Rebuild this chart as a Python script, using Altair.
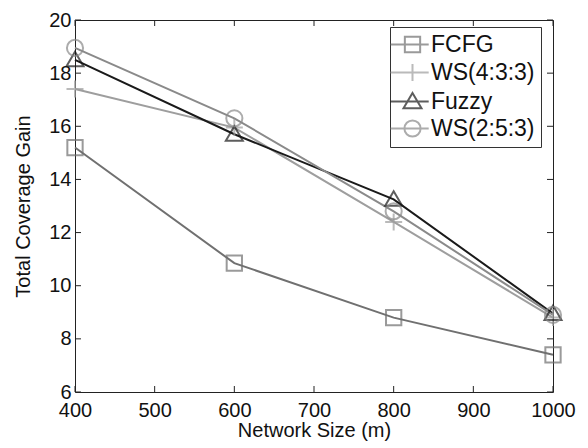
import altair as alt
import pandas as pd

# ---- data ----
sizes = [400, 600, 800, 1000]
series_names = ["FCFG", "WS(4:3:3)", "Fuzzy", "WS(2:5:3)"]
fcfg = [15.2, 10.85, 8.8, 7.4]
ws433 = [17.4, 15.95, 12.4, 8.8]
fuzzy = [18.5, 15.7, 13.25, 8.95]
ws253 = [18.95, 16.3, 12.8, 8.9]
x_ticks = [400, 500, 600, 700, 800, 900, 1000]
y_ticks = [6, 8, 10, 12, 14, 16, 18, 20]

colors = ["#707070", "#9e9e9e", "#1a1a1a", "#8a8a8a"]
CIRCLE = ("M0.9,0C0.9,0.497,0.497,0.9,0,0.9C-0.497,0.9,-0.9,0.497,-0.9,0"
          "C-0.9,-0.497,-0.497,-0.9,0,-0.9C0.497,-0.9,0.9,-0.497,0.9,0Z")
marker_shapes = [
    "M-0.9,-0.9H0.9V0.9H-0.9Z",
    "M-1,0H1M0,-1V1",
    "M0,-0.95L1,0.75H-1Z",
    "M0.95,0A0.95,0.95,0,1,1,-0.95,0A0.95,0.95,0,1,1,0.95,0",
]
# legend symbols: short line through the marker (unit = 9 px)
LINE = "M-2.45,0H1.8"
legend_shapes = [
    LINE + "M-0.85,-0.85H0.85V0.85H-0.85Z",
    LINE + "M0,-0.95V0.95",
    LINE + "M0,-0.95L1,0.75H-1Z",
    LINE + CIRCLE,
]

rows = []
for name, vals in zip(series_names, [fcfg, ws433, fuzzy, ws253]):
    for s, v in zip(sizes, vals):
        rows.append({"size": s, "gain": v, "series": name})
df = pd.DataFrame(rows)
xt = pd.DataFrame({"size": x_ticks})
yt = pd.DataFrame({"gain": y_ticks})

FONT = "Liberation Sans"
W, H = 478, 372
TK = 6

xscale = alt.Scale(domain=[400, 1000], nice=False)
yscale = alt.Scale(domain=[6, 20], nice=False)
col = alt.Scale(domain=series_names, range=colors)

base = alt.Chart(df)

lines = base.mark_line(strokeWidth=2).encode(
    x=alt.X("size:Q", scale=xscale,
            axis=alt.Axis(orient="bottom", values=x_ticks, ticks=False, domain=False,
                          grid=False, title="Network Size (m)", format="d", labelFontSize=20,
                          titleFontSize=20, labelPadding=8, titlePadding=0,
                          titleFontWeight="normal", labelColor="#111", titleColor="#111",
                          labelFont=FONT, titleFont=FONT, labelFlush=False)),
    y=alt.Y("gain:Q", scale=yscale,
            axis=alt.Axis(orient="left", values=y_ticks, ticks=False, domain=False,
                          grid=False, title="Total Coverage Gain", labelFontSize=20,
                          titleFontSize=20, labelPadding=4, titlePadding=15,
                          titleFontWeight="normal", labelColor="#111", titleColor="#111",
                          labelFont=FONT, titleFont=FONT, labelOverlap=False)),
    color=alt.Color("series:N", scale=col, legend=None),
)

points = base.mark_point(filled=False, strokeWidth=2, size=289).encode(
    x=alt.X("size:Q", scale=xscale, axis=None),
    y=alt.Y("gain:Q", scale=yscale, axis=None),
    color=alt.Color("series:N", scale=col, legend=None),
    shape=alt.Shape("series:N", scale=alt.Scale(domain=series_names, range=marker_shapes),
                    legend=None),
)

leg = alt.Legend(title=None, orient="none", legendX=315, legendY=7, labelFontSize=23,
                 labelFont=FONT, labelColor="#111", symbolSize=324, symbolStrokeWidth=2,
                 strokeColor="#333", fillColor="white", padding=6, rowPadding=2,
                 symbolOffset=5, labelOffset=7, symbolFillColor="transparent")

legend_layer = base.mark_point(filled=False, size=0, strokeWidth=2).encode(
    x=alt.X("size:Q", scale=xscale, axis=None),
    y=alt.Y("gain:Q", scale=yscale, axis=None),
    stroke=alt.Stroke("series:N", scale=alt.Scale(domain=series_names, range=colors), legend=leg),
    shape=alt.Shape("series:N", scale=alt.Scale(domain=series_names, range=legend_shapes),
                    legend=leg),
)

# inward tick marks on all four sides (MATLAB style)
tick_style = dict(color="#222", strokeWidth=1)
xtick_bottom = alt.Chart(xt).mark_rule(**tick_style).encode(
    x=alt.X("size:Q", scale=xscale, axis=None), y=alt.value(H), y2=alt.value(H - TK))
xtick_top = alt.Chart(xt).mark_rule(**tick_style).encode(
    x=alt.X("size:Q", scale=xscale, axis=None), y=alt.value(0), y2=alt.value(TK))
ytick_left = alt.Chart(yt).mark_rule(**tick_style).encode(
    y=alt.Y("gain:Q", scale=yscale, axis=None), x=alt.value(0), x2=alt.value(TK))
ytick_right = alt.Chart(yt).mark_rule(**tick_style).encode(
    y=alt.Y("gain:Q", scale=yscale, axis=None), x=alt.value(W), x2=alt.value(W - TK))

chart = (
    alt.layer(lines, xtick_bottom, xtick_top, ytick_left, ytick_right, points, legend_layer)
    .resolve_scale(shape="independent", stroke="independent")
    .resolve_axis(x="independent", y="independent")
    .properties(width=W, height=H, autosize="none",
                padding={"left": 67, "top": 12, "right": 27, "bottom": 56},
                background="white")
    .configure_view(stroke="#222", strokeWidth=1)
)

chart.save("out.html", embed_options={"renderer": "svg", "actions": False})
